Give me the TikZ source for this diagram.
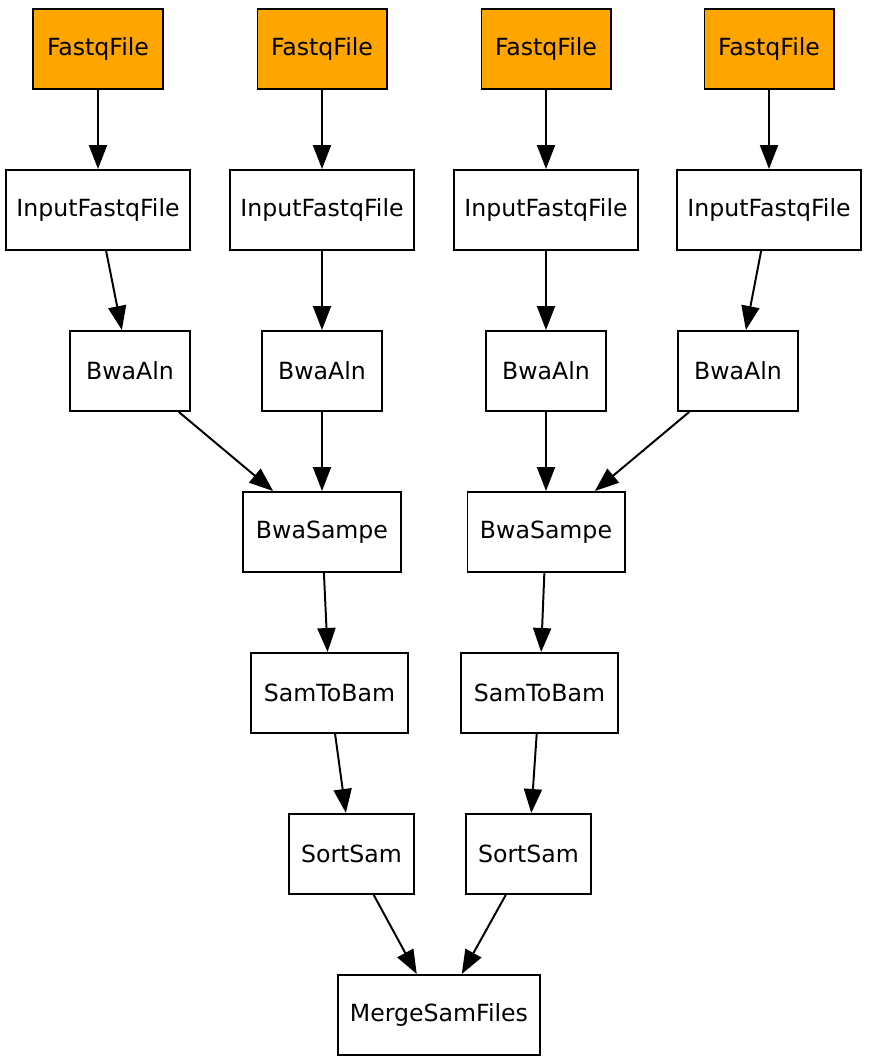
\documentclass[tikz,border=0pt]{standalone}
\usepackage{fontspec}
\setmainfont{DejaVu Sans}
\usepackage{xcolor}
\usepackage{tikz}
\usetikzlibrary{positioning,arrows.meta}
\definecolor{fqorange}{RGB}{255,165,0}
\tikzset{
  job/.style  ={rectangle, draw=black, fill=white, line width=1.4pt, inner sep=0pt,
                minimum height=2cm, font=\fontsize{16.8}{19}\selectfont},
  fq/.style   ={job, fill=fqorange, minimum width=3.225cm},
  infq/.style ={job, minimum width=4.575cm},
  aln/.style  ={job, minimum width=3cm},
  flow/.style ={-{Triangle[length=6mm, width=4.5mm]}, line width=1.4pt, draw=black},
}
\begin{document}
\begin{tikzpicture}[x=0.025cm, y=-0.025cm]
\useasboundingbox (0,0) rectangle (875,1060);
\node[fq] (fq1) at (98,49) {FastqFile};
\node[fq] (fq2) at (322,49) {FastqFile};
\node[fq] (fq3) at (546,49) {FastqFile};
\node[fq] (fq4) at (769,49) {FastqFile};
\node[infq] (in1) at (98,210) {InputFastqFile};
\node[infq] (in2) at (322,210) {InputFastqFile};
\node[infq] (in3) at (546,210) {InputFastqFile};
\node[infq] (in4) at (769,210) {InputFastqFile};
\node[aln] (aln1) at (130,371) {BwaAln};
\node[aln] (aln2) at (322,371) {BwaAln};
\node[aln] (aln3) at (546,371) {BwaAln};
\node[aln] (aln4) at (738,371) {BwaAln};
\node[job, minimum width=3.925cm] (sampe1) at (322,532) {BwaSampe};
\node[job, minimum width=3.925cm] (sampe2) at (546,532) {BwaSampe};
\node[job, minimum width=3.925cm] (s2b1) at (329.5,693) {SamToBam};
\node[job, minimum width=3.925cm] (s2b2) at (539.5,693) {SamToBam};
\node[job, minimum width=3.125cm] (sort1) at (351.5,854) {SortSam};
\node[job, minimum width=3.125cm] (sort2) at (528.5,854) {SortSam};
\node[job, minimum width=5.05cm] (merge) at (439,1015) {MergeSamFiles};
\draw[flow] (fq1) -- (in1);
\draw[flow] (fq2) -- (in2);
\draw[flow] (fq3) -- (in3);
\draw[flow] (fq4) -- (in4);
\draw[flow] (in1) -- (aln1);
\draw[flow] (in2) -- (aln2);
\draw[flow] (in3) -- (aln3);
\draw[flow] (in4) -- (aln4);
\draw[flow] (aln1) -- (sampe1);
\draw[flow] (aln2) -- (sampe1);
\draw[flow] (aln3) -- (sampe2);
\draw[flow] (aln4) -- (sampe2);
\draw[flow] (sampe1) -- (s2b1);
\draw[flow] (sampe2) -- (s2b2);
\draw[flow] (s2b1) -- (sort1);
\draw[flow] (s2b2) -- (sort2);
\draw[flow] (sort1) -- (merge);
\draw[flow] (sort2) -- (merge);
\end{tikzpicture}
\end{document}
